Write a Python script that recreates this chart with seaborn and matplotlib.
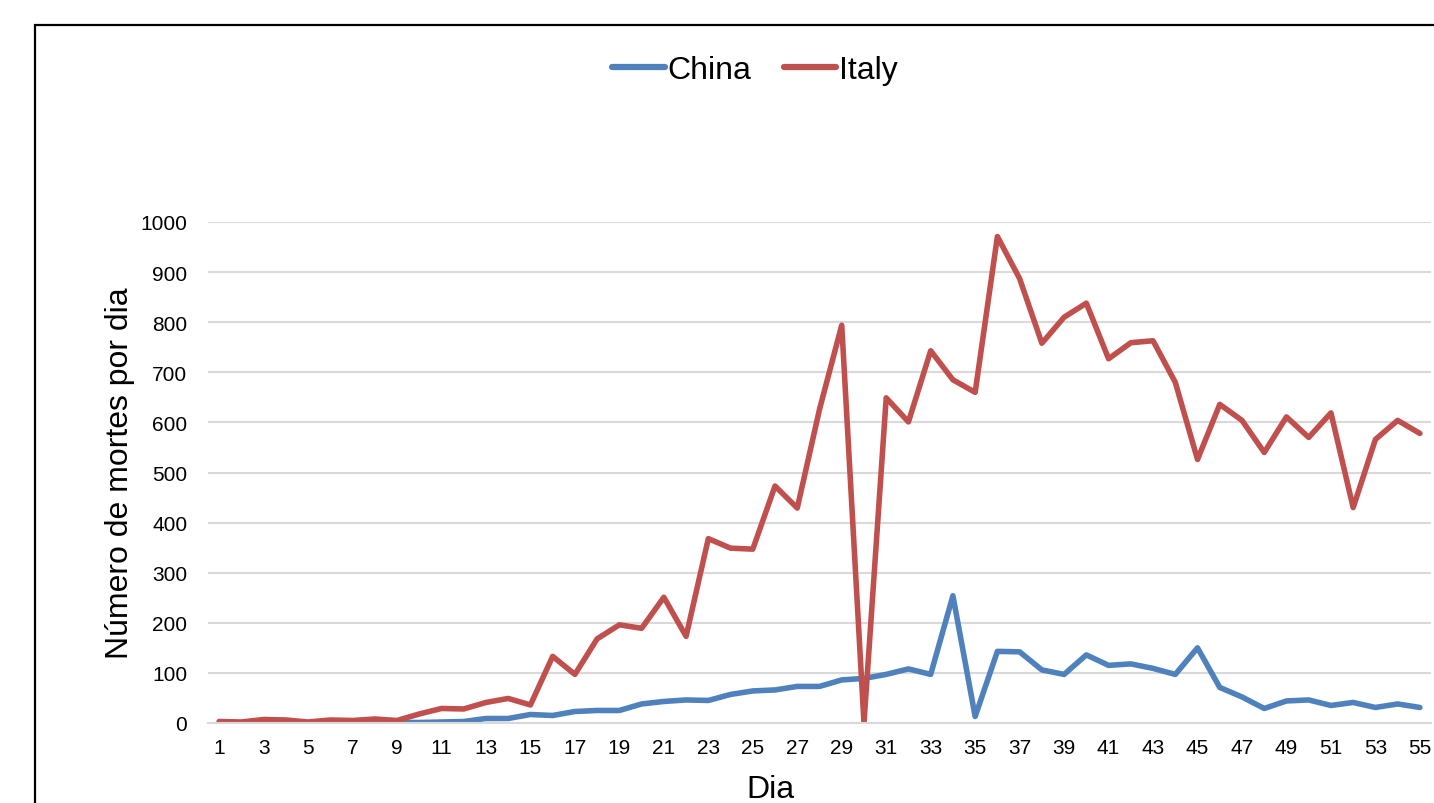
import matplotlib
matplotlib.use("Agg")
import matplotlib.pyplot as plt
from matplotlib.patches import Rectangle
import seaborn as sns
import pandas as pd

days = list(range(1, 56))
china = [0, 0, 0, 0, 0, 0, 0, 0, 1, 1, 2, 3, 9, 9, 17, 15, 23, 25, 25, 38,
         43, 46, 45, 57, 64, 66, 73, 73, 86, 89, 97, 108, 97, 254, 13, 143, 142, 106, 97, 136,
         115, 118, 109, 97, 150, 71, 52, 29, 44, 46, 35, 41, 31, 38, 31]
italy = [3, 2, 7, 6, 2, 6, 5, 8, 5, 18, 29, 28, 41, 49, 36, 133, 97, 168, 196, 189,
         251, 173, 368, 349, 347, 473, 429, 626, 794, 0, 649, 601, 743, 685, 660, 971, 887, 758, 810, 838,
         727, 759, 763, 680, 526, 636, 604, 540, 611, 570, 619, 430, 566, 604, 578]
series_names = ["China", "Italy"]
colors = ["#4F81BD", "#C0504D"]
x_title = "Dia"
y_title = "Número de mortes por dia"
y_ticks = [0, 100, 200, 300, 400, 500, 600, 700, 800, 900, 1000]
x_ticks = list(range(1, 56, 2))

df = pd.DataFrame({
    "Dia": days * 2,
    "valor": china + italy,
    "pais": [series_names[0]] * len(days) + [series_names[1]] * len(days),
})

sns.set_style("white")
plt.rcParams["font.family"] = ["Liberation Sans", "DejaVu Sans"]
plt.rcParams["text.color"] = "black"
plt.rcParams["axes.labelcolor"] = "black"

W, H = 1434, 804
fig = plt.figure(figsize=(W / 100, H / 100), dpi=100)
ax_left, ax_right = 208, 1431
ax_top, ax_bottom = 223, 724
ax = fig.add_axes([ax_left / W, 1 - ax_bottom / H, (ax_right - ax_left) / W, (ax_bottom - ax_top) / H])

sns.lineplot(data=df, x="Dia", y="valor", hue="pais", palette=colors,
             linewidth=4.0, ax=ax, legend=True)

ax.set_xlim(0.5, 55.5)
ax.set_ylim(0, 1000)
ax.set_yticks(y_ticks)
ax.set_xticks(x_ticks)
ax.tick_params(axis="both", length=0, labelsize=15, colors="#000000")
ax.tick_params(axis="y", pad=15)
ax.tick_params(axis="x", pad=11)
ax.grid(axis="y", color="#D9D9D9", linewidth=1.5)
ax.set_axisbelow(True)
for s in ["top", "right", "left"]:
    ax.spines[s].set_visible(False)
ax.spines["bottom"].set_color("#D9D9D9")
ax.spines["bottom"].set_linewidth(1.5)

ax.set_ylabel(y_title, fontsize=23, color="black")
ax.set_xlabel(x_title, fontsize=23, color="black")
ax.yaxis.set_label_coords(-0.060, 0.5)
ax.xaxis.set_label_coords(0.4595, -0.101)

handles, labels = ax.get_legend_handles_labels()
ax.legend_.remove()
for h in handles:
    h.set_linewidth(4.5)
leg = fig.legend(handles, labels, loc="center", bbox_to_anchor=(755 / W, 1 - 71 / H),
                 ncol=2, frameon=False, fontsize=23, handlelength=1.65,
                 handletextpad=0.1, columnspacing=1.0)
for t in leg.get_texts():
    t.set_color("black")

fig.patches.append(Rectangle((35 / W, -0.1), 2.0, 1.1 - 26 / H, transform=fig.transFigure,
                             fill=False, edgecolor="black", linewidth=1.6, clip_on=False))

fig.savefig("out.png", dpi=100, facecolor="white")
